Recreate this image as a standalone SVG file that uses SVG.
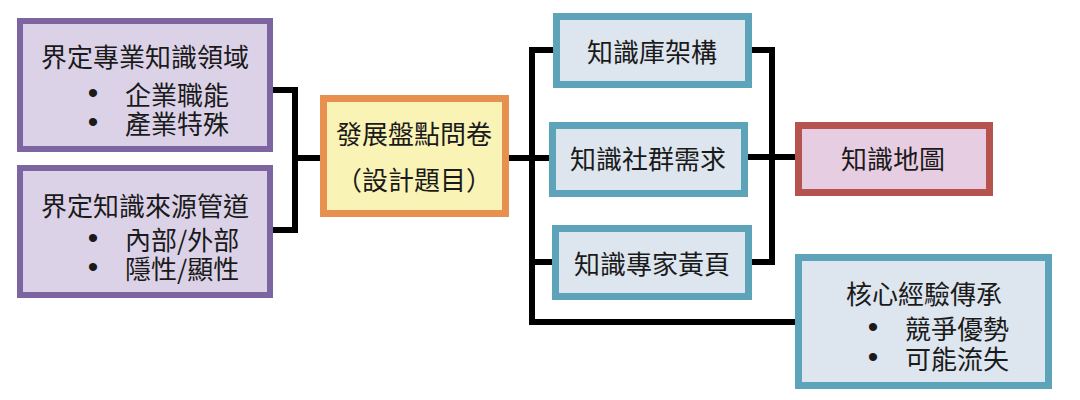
<svg xmlns="http://www.w3.org/2000/svg" width="1080" height="400" viewBox="0 0 1080 400">
<style>
text{font-family:"Noto Sans CJK TC","Noto Sans CJK SC",sans-serif;font-size:26px;fill:#1a1a1a;dominant-baseline:central}
.c{text-anchor:middle}
.b{font-family:"Liberation Sans",Arial,sans-serif;font-size:30px;text-anchor:middle}
.pu{fill:#dcd2e8;stroke:#7d65a1;stroke-width:6}
.or{fill:#faf3b6;stroke:#e8904f;stroke-width:7}
.bl{fill:#dde5ee;stroke:#5da3ba;stroke-width:7}
.rd{fill:#e7cde1;stroke:#b7534f;stroke-width:7}
.cn{fill:none;stroke:#000;stroke-width:6}
</style>
<rect width="1080" height="400" fill="#fff"/>
<g id="connectors">
<path class="cn" d="M273 90 H295 V230 H273 M295 158 H322"/>
<path class="cn" d="M508 158 H550 M554 50 H532 V322 H797 M532 262 H553"/>
<path class="cn" d="M751 50 H772 V262 H751 M747 157 H797"/>
</g>
<g id="n1">
<rect class="pu" x="20" y="21" width="250" height="128"/>
<text class="c" x="145" y="55">界定專業知識領域</text>
<text class="b" x="93" y="92">•</text><text x="125" y="93">企業職能</text>
<text class="b" x="93" y="121">•</text><text x="125" y="122">產業特殊</text>
</g>
<g id="n2">
<rect class="pu" x="20" y="168" width="250" height="127"/>
<text class="c" x="145" y="204">界定知識來源管道</text>
<text class="b" x="93" y="237">•</text><text x="125" y="238">內部/外部</text>
<text class="b" x="93" y="266">•</text><text x="125" y="267">隱性/顯性</text>
</g>
<g id="n3">
<rect class="or" x="323.5" y="98.5" width="182" height="115"/>
<text class="c" x="414" y="132">發展盤點問卷</text>
<text class="c" x="414" y="178">（設計題目）</text>
</g>
<g id="n4">
<rect class="bl" x="556.5" y="16.5" width="192" height="68"/>
<text class="c" x="652" y="50">知識庫架構</text>
</g>
<g id="n5">
<rect class="bl" x="552.5" y="125.5" width="192" height="68"/>
<text class="c" x="648" y="157">知識社群需求</text>
</g>
<g id="n6">
<rect class="bl" x="555.5" y="228.5" width="193" height="68"/>
<text class="c" x="652" y="262">知識專家黃頁</text>
</g>
<g id="n7">
<rect class="rd" x="798.5" y="125.5" width="191" height="67"/>
<text class="c" x="893" y="157">知識地圖</text>
</g>
<g id="n8">
<rect class="bl" x="798.5" y="257.5" width="250" height="128"/>
<text class="c" x="924" y="292">核心經驗傳承</text>
<text class="b" x="873" y="326">•</text><text x="905" y="327">競爭優勢</text>
<text class="b" x="873" y="356">•</text><text x="905" y="357">可能流失</text>
</g>
</svg>
